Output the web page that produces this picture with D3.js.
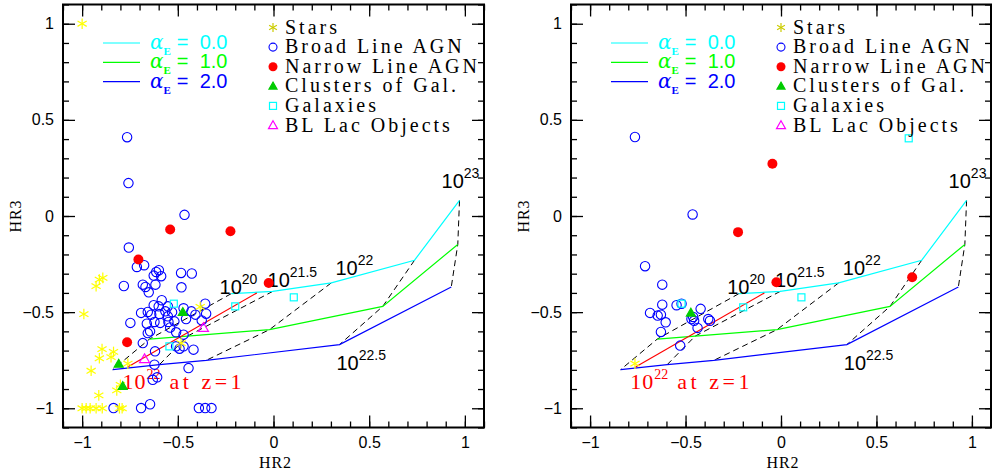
<!DOCTYPE html>
<html lang="en">
<head>
<meta charset="utf-8">
<script src="https://d3js.org/d3.v7.min.js"></script>
<style>
  body { margin: 0; background: #fff; }
  svg { display: block; }
  .tick text { font-family: "Liberation Sans", Arial, sans-serif; font-size: 16px; fill: #000; }
</style>
<title>HR2 vs HR3</title>
</head>
<body>
<script>
// model grid: one curve per alpha_E, points at log NH = 20, 21.5, 22, 22.5, 23
var nhLabels = ["20", "21.5", "22", "22.5", "23"];
var alphaLabels = ["0.0", "1.0", "2.0"];
var alphaColors = ["#00ffff", "#00ff00", "#0000ff"];
var alpha0 = [[-0.221, -0.404], [-0.004, -0.392], [0.302, -0.348], [0.737, -0.230], [0.972, 0.081]];
var alpha1 = [[-0.648, -0.640], [-0.450, -0.625], [-0.021, -0.591], [0.571, -0.470], [0.963, -0.148]];
var alpha2 = [[-0.840, -0.799], [-0.596, -0.773], [-0.352, -0.751], [0.345, -0.669], [0.929, -0.369]];
var redshiftLine = [[-0.762, -0.785], [-0.087, -0.400]];

var legendNames = ["Stars", "Broad Line AGN", "Narrow Line AGN", "Clusters of Gal.", "Galaxies", "BL Lac Objects"];

// left panel sources
var starsL = [[-1.0, 1.0], [-0.910, -0.331], [-0.892, -0.322], [-0.927, -0.365], [-0.991, -0.510],
  [-0.896, -0.692], [-0.910, -0.740], [-0.836, -0.707], [-0.849, -0.734], [-0.953, -0.805],
  [-0.761, -0.768], [-0.800, -0.878], [-0.819, -0.907], [-0.913, -0.933], [-1.0, -1.0],
  [-0.979, -1.0], [-0.958, -1.0], [-0.927, -1.0], [-0.895, -1.0], [-0.805, -1.0], [-0.791, -1.0],
  [-0.383, -0.473], [-0.483, -0.661]];
var blagnL = [[-0.765, 0.410], [-0.758, 0.171], [-0.465, 0.006], [-0.756, -0.164], [-0.714, -0.265],
  [-0.676, -0.256], [-0.613, -0.291], [-0.599, -0.282], [-0.587, -0.313], [-0.626, -0.310],
  [-0.483, -0.296], [-0.427, -0.299], [-0.782, -0.364], [-0.683, -0.357], [-0.669, -0.369],
  [-0.617, -0.357], [-0.652, -0.397], [-0.481, -0.371], [-0.584, -0.438], [-0.626, -0.464],
  [-0.552, -0.470], [-0.692, -0.504], [-0.657, -0.499], [-0.639, -0.513], [-0.596, -0.510],
  [-0.565, -0.496], [-0.552, -0.522], [-0.622, -0.551], [-0.592, -0.556], [-0.662, -0.560],
  [-0.549, -0.551], [-0.518, -0.548], [-0.457, -0.536], [-0.429, -0.496], [-0.408, -0.513],
  [-0.357, -0.456], [-0.352, -0.508], [-0.375, -0.543], [-0.748, -0.556], [-0.657, -0.609],
  [-0.645, -0.600], [-0.683, -0.661], [-0.509, -0.605], [-0.470, -0.617], [-0.619, -0.704],
  [-0.509, -0.678], [-0.491, -0.690], [-0.470, -0.678], [-0.418, -0.695], [-0.622, -0.773],
  [-0.444, -0.791], [-0.631, -0.852], [-0.608, -0.839], [-0.836, -0.999], [-0.692, -0.999],
  [-0.645, -0.979], [-0.390, -0.999], [-0.357, -0.999], [-0.324, -0.999], [-0.540, -0.580],
  [-0.600, -0.470], [-0.470, -0.480], [-0.530, -0.500]];
var nlagnL = [[-0.540, -0.070], [-0.225, -0.079], [-0.706, -0.226], [-0.765, -0.657], [-0.025, -0.348]];
var clustersL = [[-0.809, -0.770], [-0.788, -0.886], [-0.474, -0.501]];
var galaxiesL = [[-0.521, -0.456], [-0.544, -0.678], [-0.200, -0.470], [0.106, -0.423]];
var bllacL = [[-0.366, -0.582], [-0.674, -0.744]];

// right panel sources
var starsR = [[-0.765, -0.768]];
var blagnR = [[-0.765, 0.411], [-0.463, 0.008], [-0.712, -0.261], [-0.622, -0.357], [-0.622, -0.461],
  [-0.686, -0.504], [-0.646, -0.518], [-0.629, -0.513], [-0.604, -0.553], [-0.629, -0.603],
  [-0.547, -0.464], [-0.521, -0.456], [-0.421, -0.483], [-0.469, -0.536], [-0.460, -0.525],
  [-0.455, -0.545], [-0.437, -0.582], [-0.381, -0.536], [-0.372, -0.545], [-0.528, -0.674]];
var nlagnR = [[-0.225, -0.084], [-0.045, 0.272], [-0.024, -0.345], [0.687, -0.319]];
var clustersR = [[-0.472, -0.504]];
var galaxiesR = [[-0.521, -0.456], [-0.198, -0.475], [0.107, -0.423], [0.669, 0.404]];
var bllacR = [];

var majorTicks = [-1, -0.5, 0, 0.5, 1];
var minorTicks = d3.range(-11, 12).map(function(i) { return i / 10; });

var width = 992, height = 474;
var plotTop = 4.5, plotBottom = 427.5;

var svg = d3.select("body").append("svg")
  .attr("width", width)
  .attr("height", height);

// symbol helpers
function star(g, x, y, r, col) {
  [90, 30, 150].forEach(function(a) {
    var dx = r * Math.cos(a * Math.PI / 180), dy = r * Math.sin(a * Math.PI / 180);
    g.append("line").attr("x1", x - dx).attr("y1", y - dy).attr("x2", x + dx).attr("y2", y + dy)
      .attr("stroke", col).attr("stroke-width", 1.2);
  });
}
function tri(g, x, y, s, col, filled) {
  var h = s * 0.87;
  g.append("path")
    .attr("d", "M" + x + "," + (y - h * 0.6) + "L" + (x + s / 2) + "," + (y + h * 0.4) + "L" + (x - s / 2) + "," + (y + h * 0.4) + "Z")
    .attr("fill", filled ? col : "none").attr("stroke", col).attr("stroke-width", 1.2);
}
function square(g, x, y, s, col) {
  g.append("rect").attr("x", x - s / 2).attr("y", y - s / 2).attr("width", s).attr("height", s)
    .attr("fill", "none").attr("stroke", col).attr("stroke-width", 1.2);
}

function drawPanel(left, right, d) {
  var x = d3.scaleLinear().domain([-1.1, 1.1]).range([left, right]);
  var y = d3.scaleLinear().domain([-1.1, 1.1]).range([plotBottom, plotTop]);
  var g = svg.append("g");
  var fmt = function(v) { return d3.format("~g")(v); };

  // ticks on all four sides, pointing inwards
  function addAxis(axisFn, scale, tr, labels) {
    g.append("g").attr("transform", tr)
      .call(axisFn(scale).tickValues(minorTicks).tickSize(-6).tickFormat(""))
      .call(function(a) { a.select(".domain").remove(); a.selectAll("line").attr("stroke-width", 1.3); });
    g.append("g").attr("transform", tr)
      .call(axisFn(scale).tickValues(majorTicks).tickSize(-12).tickPadding(9)
        .tickFormat(labels ? fmt : ""))
      .call(function(a) { a.select(".domain").remove(); a.selectAll("line").attr("stroke-width", 1.3); });
  }
  addAxis(d3.axisBottom, x, "translate(0," + plotBottom + ")", true);
  addAxis(d3.axisTop, x, "translate(0," + plotTop + ")", false);
  addAxis(d3.axisLeft, y, "translate(" + left + ",0)", true);
  addAxis(d3.axisRight, y, "translate(" + right + ",0)", false);

  g.append("rect").attr("x", left).attr("y", plotTop).attr("width", right - left).attr("height", plotBottom - plotTop)
    .attr("fill", "none").attr("stroke", "#000").attr("stroke-width", 2);

  g.append("text").attr("x", x(0) + 2).attr("y", 468).attr("text-anchor", "middle")
    .attr("font-family", "Liberation Serif, serif").attr("font-size", 16).attr("letter-spacing", 1)
    .text("HR2");
  g.append("text").attr("transform", "translate(" + (left - 42) + "," + y(0) + ") rotate(-90)")
    .attr("text-anchor", "middle")
    .attr("font-family", "Liberation Serif, serif").attr("font-size", 16).attr("letter-spacing", 1)
    .text("HR3");

  var line = d3.line().x(function(p) { return x(p[0]); }).y(function(p) { return y(p[1]); });
  var curves = [alpha0, alpha1, alpha2];

  // dashed lines joining equal NH across alpha
  nhLabels.forEach(function(n, i) {
    g.append("path").attr("d", line(curves.map(function(c) { return c[i]; })))
      .attr("fill", "none").attr("stroke", "#000").attr("stroke-width", 1).attr("stroke-dasharray", "6,4");
  });
  curves.forEach(function(c, i) {
    g.append("path").attr("d", line(c)).attr("fill", "none")
      .attr("stroke", alphaColors[i]).attr("stroke-width", 1.2);
  });
  g.append("path").attr("d", line(redshiftLine)).attr("fill", "none")
    .attr("stroke", "#ff0000").attr("stroke-width", 1.2);

  // NH labels
  var nhPos = [[-0.282, -0.404], [-0.031, -0.367], [0.324, -0.305], [0.329, -0.80], [0.878, 0.148]];
  nhLabels.forEach(function(n, i) {
    var t = g.append("text").attr("x", x(nhPos[i][0])).attr("y", y(nhPos[i][1]))
      .attr("font-family", "Liberation Sans, sans-serif").attr("font-size", 20).attr("fill", "#000");
    t.append("tspan").text("10");
    t.append("tspan").attr("font-size", 14).attr("dy", -10).text(n);
  });
  var rt = g.append("text").attr("x", x(-0.789)).attr("y", y(-0.898))
    .attr("font-family", "Liberation Serif, serif").attr("font-size", 22).attr("fill", "#ff0000")
    .attr("xml:space", "preserve");
  rt.append("tspan").attr("letter-spacing", 1).text("10");
  rt.append("tspan").attr("font-size", 14).attr("dy", -10).text("22");
  rt.append("tspan").attr("dy", 10).attr("letter-spacing", 3.5).text(" at z=1");

  // data points
  d.blagn.forEach(function(p) {
    g.append("circle").attr("cx", x(p[0])).attr("cy", y(p[1])).attr("r", 4.7)
      .attr("fill", "none").attr("stroke", "#0000ff").attr("stroke-width", 1.1);
  });
  d.nlagn.forEach(function(p) {
    g.append("circle").attr("cx", x(p[0])).attr("cy", y(p[1])).attr("r", 5).attr("fill", "#ff0000");
  });
  d.stars.forEach(function(p) { star(g, x(p[0]), y(p[1]), 5.3, "#ffff00"); });
  d.clusters.forEach(function(p) { tri(g, x(p[0]), y(p[1]), 9, "#00cc00", true); });
  d.galaxies.forEach(function(p) { square(g, x(p[0]), y(p[1]), 7, "#00ffff"); });
  d.bllac.forEach(function(p) { tri(g, x(p[0]), y(p[1]), 10, "#ff00ff", false); });

  // alpha legend
  alphaLabels.forEach(function(a, i) {
    var ly = 43 + i * 19.3;
    g.append("line").attr("x1", left + 40).attr("x2", left + 77).attr("y1", ly).attr("y2", ly)
      .attr("stroke", alphaColors[i]).attr("stroke-width", 1.2);
    var t = g.append("text").attr("x", left + 87).attr("y", ly + 6)
      .attr("font-family", "Liberation Sans, sans-serif").attr("font-size", 20).attr("fill", alphaColors[i])
      .attr("xml:space", "preserve");
    t.append("tspan").attr("font-family", "DejaVu Serif, serif").attr("font-style", "italic").text("\u03b1");
    t.append("tspan").attr("font-size", 11).attr("font-weight", "bold").attr("font-family", "Liberation Serif, serif")
      .attr("dy", 6).text("E");
    t.append("tspan").attr("dy", -6).attr("dx", 6).text("=  " + a);
  });

  // source legend
  legendNames.forEach(function(name, i) {
    var by = 33.5 + i * 19.6, mx = left + 210, my = by - 6;
    if (i === 0) star(g, mx, my, 4.5, "#cccc00");
    if (i === 1) g.append("circle").attr("cx", mx).attr("cy", my).attr("r", 4).attr("fill", "none")
      .attr("stroke", "#0000ff").attr("stroke-width", 1.1);
    if (i === 2) g.append("circle").attr("cx", mx).attr("cy", my).attr("r", 4.5).attr("fill", "#ff0000");
    if (i === 3) tri(g, mx, my, 8, "#00cc00", true);
    if (i === 4) square(g, mx, my, 7, "#00ffff");
    if (i === 5) tri(g, mx, my, 9, "#ff00ff", false);
    g.append("text").attr("x", left + 222).attr("y", by)
      .attr("font-family", "Liberation Serif, serif").attr("font-size", 20).attr("letter-spacing", 3)
      .text(name);
  });
}

drawPanel(63, 484, { stars: starsL, blagn: blagnL, nlagn: nlagnL, clusters: clustersL, galaxies: galaxiesL, bllac: bllacL });
drawPanel(571, 991, { stars: starsR, blagn: blagnR, nlagn: nlagnR, clusters: clustersR, galaxies: galaxiesR, bllac: bllacR });
</script>
</body>
</html>
